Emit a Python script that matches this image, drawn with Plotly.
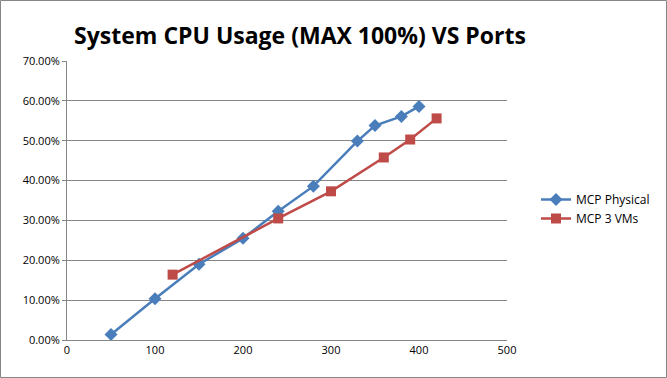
import plotly.graph_objects as go

phys_ports = [50, 100, 150, 200, 240, 280, 330, 350, 380, 400]
phys_cpu = [0.014, 0.1035, 0.19, 0.255, 0.323, 0.386, 0.499, 0.538, 0.561, 0.586]
vm_ports = [120, 240, 300, 360, 390, 420]
vm_cpu = [0.164, 0.305, 0.373, 0.458, 0.503, 0.556]
x_ticks = [0, 100, 200, 300, 400, 500]
y_ticks = [0, 0.1, 0.2, 0.3, 0.4, 0.5, 0.6, 0.7]

fig = go.Figure()
fig.add_trace(go.Scatter(x=phys_ports, y=phys_cpu, mode="lines+markers", name="MCP Physical",
                         line=dict(color="#4a7ebb", width=2.5),
                         marker=dict(symbol="diamond", size=10, color="#4a7ebb")))
fig.add_trace(go.Scatter(x=vm_ports, y=vm_cpu, mode="lines+markers", name="MCP 3 VMs",
                         line=dict(color="#be4b48", width=2.5),
                         marker=dict(symbol="square", size=10, color="#be4b48")))

L, R, T, B = 67, 160, 61, 38
pw, ph = 667 - L - R, 378 - T - B
fig.update_layout(
    width=667, height=378,
    margin=dict(l=L, r=R, t=T, b=B),
    paper_bgcolor="white", plot_bgcolor="white",
    font=dict(family="Open Sans, DejaVu Sans, sans-serif", size=11, color="black"),
    title=dict(text="<b>System CPU Usage (MAX 100%) VS Ports</b>", x=300 / 667, xanchor="center",
               y=1 - 36 / 378, yanchor="middle",
               font=dict(family="Open Sans, DejaVu Sans, sans-serif", size=23, color="black")),
    xaxis=dict(range=[0, 500], tickvals=x_ticks, showgrid=False, zeroline=False,
               showline=True, linecolor="#868686", linewidth=1, ticks="",
               tickfont=dict(size=11)),
    yaxis=dict(range=[0, 0.7], tickvals=y_ticks, tickformat=".2%", showgrid=True,
               gridcolor="#868686", gridwidth=1, zeroline=False, showline=True,
               linecolor="#868686", linewidth=1, ticks="outside", ticklen=4,
               tickcolor="#868686", tickfont=dict(size=11)),
    legend=dict(x=(536 - L) / pw, y=(340 - 185) / ph, xanchor="left", yanchor="top",
                font=dict(size=12), bgcolor="rgba(0,0,0,0)", tracegroupgap=6),
    showlegend=True,
)
fig.add_shape(type="rect", xref="paper", yref="paper",
              x0=0.5 / pw - L / pw, x1=(666.5 - L) / pw,
              y0=(340 - 377.5) / ph, y1=(340 - 0.5) / ph,
              line=dict(color="#868686", width=1))
fig.write_html("out.html", config={"displayModeBar": False},
               post_script="document.body.style.margin='0';document.body.style.overflow='hidden';")
